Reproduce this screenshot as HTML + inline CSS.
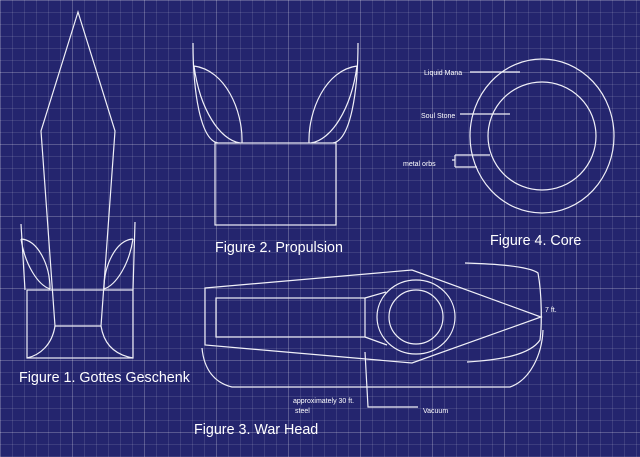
<!DOCTYPE html>
<html><head><style>
html,body{margin:0;padding:0}
body{width:640px;height:457px;overflow:hidden;background:#24256e;
background-image:
linear-gradient(rgba(255,255,255,0.14) 1px,transparent 1px),
linear-gradient(90deg,rgba(255,255,255,0.14) 1px,transparent 1px),
linear-gradient(rgba(255,255,255,0.11) 1px,transparent 1px),
linear-gradient(90deg,rgba(255,255,255,0.11) 1px,transparent 1px);
background-size:72px 72px,72px 72px,12px 12px,12px 12px;
background-position:0 0,0 0,0 0,0 0;}
svg{position:absolute;left:0;top:0}
text{font-family:"Liberation Sans",sans-serif;fill:#fff}
</style></head><body>
<svg width="640" height="457" viewBox="0 0 640 457" fill="none" stroke="#f0f0f8" stroke-width="1.2">
<!-- Figure 1 -->
<path d="M78,12 L41,131 L55,326 L101,326 L115,131 Z"/>
<rect x="27" y="290" width="106" height="68"/>
<path d="M55,326 C52,345 40,355 27,358 M101,326 C104,345 116,355 133,358"/>
<path d="M21,224 L25,290 M21,239 C38,240 50,265 50,289 M21,239 C25,265 38,285 50,289"/>
<path d="M135,222 L133,290 M133,239 C116,240 104,265 104,289 M133,239 C129,265 116,285 104,289"/>
<!-- Figure 2 -->
<rect x="215" y="143" width="121" height="82"/>
<path d="M193,43 C193,90 200,140 218,143 M194,66 C225,70 243,110 242,143 M194,66 C200,110 220,140 240,143"/>
<path d="M358,43 C358,90 351,140 333,143 M357,66 C326,70 308,110 309,143 M357,66 C351,110 331,140 311,143"/>
<!-- Figure 4 -->
<ellipse cx="542" cy="136" rx="72" ry="77"/>
<circle cx="542" cy="136" r="54"/>
<path d="M470,72 L520,72 M460,114 L510,114 M452,160 L455,160 M455,155 L455,167 M455,155 L490,155 M455,167 L477,167"/>
<!-- Figure 3 -->
<path d="M205,288 L412,270 L541,317 L412,363 L205,345 Z"/>
<rect x="216" y="298" width="149" height="39"/>
<ellipse cx="416" cy="317" rx="39" ry="37"/>
<circle cx="416" cy="317" r="27"/>
<path d="M365,298 L386,292 M365,337 L387,345"/>
<path d="M465,263 C500,264 530,267 538,273 C542,295 542,325 540,340 C530,355 500,360 467,362"/>
<path d="M202,348 C204,370 215,383 232,387 L510,387 C530,380 542,355 543,330"/>
<path d="M365,352 L368,407 L418,407"/>
</svg>
<svg width="640" height="457">
<text x="19" y="382" font-size="14.3">Figure 1. Gottes Geschenk</text>
<text x="215" y="252" font-size="14.3">Figure 2. Propulsion</text>
<text x="490" y="245" font-size="14.3">Figure 4. Core</text>
<text x="194" y="434" font-size="14.3">Figure 3. War Head</text>
<text x="424" y="75" font-size="7">Liquid Mana</text>
<text x="421" y="118" font-size="7">Soul Stone</text>
<text x="403" y="166" font-size="7">metal orbs</text>
<text x="545" y="312" font-size="7">7 ft.</text>
<text x="293" y="403" font-size="7">approximately 30 ft.</text>
<text x="295" y="413" font-size="7">steel</text>
<text x="423" y="413" font-size="7">Vacuum</text>
</svg>
</body></html>
